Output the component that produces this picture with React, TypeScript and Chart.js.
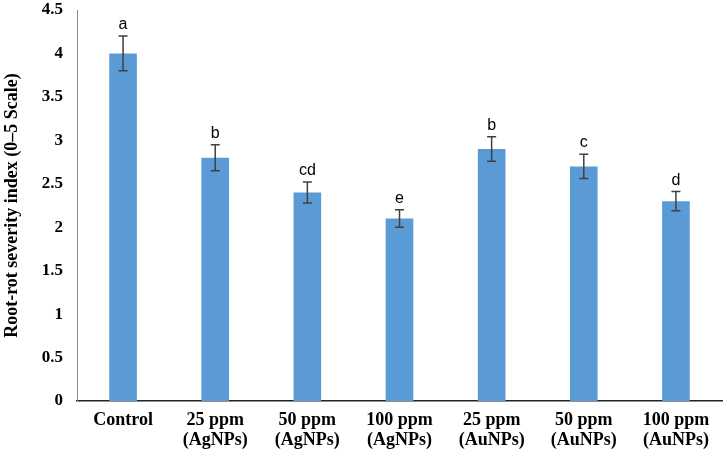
import React, { useEffect, useRef } from "react";
import { Chart, registerables } from "chart.js";

Chart.register(...registerables);

const categories: string[][] = [
  ["Control"],
  ["25 ppm", "(AgNPs)"],
  ["50 ppm", "(AgNPs)"],
  ["100 ppm", "(AgNPs)"],
  ["25 ppm", "(AuNPs)"],
  ["50 ppm", "(AuNPs)"],
  ["100 ppm", "(AuNPs)"],
];
const severity = [4.0, 2.8, 2.4, 2.1, 2.9, 2.7, 2.3];
const errors = [0.2, 0.15, 0.12, 0.1, 0.14, 0.14, 0.11];
const letters = ["a", "b", "cd", "e", "b", "c", "d"];

const errorBarPlugin = {
  id: "errorBars",
  afterDatasetsDraw(chart: any) {
    const { ctx } = chart;
    const meta = chart.getDatasetMeta(0);
    const y = chart.scales.y;
    ctx.save();
    meta.data.forEach((bar: any, i: number) => {
      const x = bar.x;
      const top = y.getPixelForValue(severity[i] + errors[i]);
      const bot = y.getPixelForValue(severity[i] - errors[i]);
      ctx.strokeStyle = "#404040";
      ctx.lineWidth = 1.5;
      ctx.beginPath();
      ctx.moveTo(x, top);
      ctx.lineTo(x, bot);
      ctx.moveTo(x - 4.5, top);
      ctx.lineTo(x + 4.5, top);
      ctx.moveTo(x - 4.5, bot);
      ctx.lineTo(x + 4.5, bot);
      ctx.stroke();
      ctx.fillStyle = "#000000";
      ctx.font = "16px 'Liberation Sans', sans-serif";
      ctx.textAlign = "center";
      ctx.textBaseline = "alphabetic";
      ctx.fillText(letters[i], x, top - 7);
    });
    ctx.restore();
  },
};

export default function App() {
  const ref = useRef<HTMLCanvasElement>(null);
  useEffect(() => {
    if (!ref.current) return;
    const chart = new Chart(ref.current, {
      type: "bar",
      data: {
        labels: categories,
        datasets: [
          {
            data: severity,
            backgroundColor: "#5B9BD5",
            barPercentage: 0.3,
            categoryPercentage: 1,
          },
        ],
      },
      options: {
        animation: false,
        responsive: false,
        maintainAspectRatio: false,
        layout: { padding: { top: 10, right: 4, left: 0, bottom: 0 } },
        plugins: { legend: { display: false }, tooltip: { enabled: false } },
        scales: {
          x: {
            grid: { display: false, drawTicks: false },
            border: { display: true, color: "#222222", width: 1.5 },
            ticks: {
              color: "#000000",
              padding: 9,
              maxRotation: 0,
              autoSkip: false,
              font: { family: "'Liberation Serif', serif", size: 18, weight: "bold", lineHeight: 1.12 },
            },
            afterFit: (s: any) => {
              s.height = 52;
              s.paddingLeft = 0;
              s.paddingRight = 0;
            },
          },
          y: {
            min: 0,
            max: 4.5,
            grid: { display: false, drawTicks: false },
            border: { display: true, color: "#8c8c8c", width: 1 },
            ticks: {
              stepSize: 0.5,
              color: "#000000",
              padding: 14,
              callback: (v: any) => String(v),
              font: { family: "'Liberation Serif', serif", size: 17, weight: "bold" },
            },
            title: {
              display: true,
              text: "Root-rot severity index (0–5 Scale)",
              color: "#000000",
              padding: { top: 2, bottom: 0 },
              font: { family: "'Liberation Serif', serif", size: 18, weight: "bold" },
            },
            afterFit: (s: any) => {
              s.width = 77;
              s.paddingTop = 0;
              s.paddingBottom = 0;
            },
          },
        },
      },
      plugins: [errorBarPlugin],
    });
    return () => chart.destroy();
  }, []);
  return (
    <div style={{ position: "absolute", left: 0, top: 0, width: 726, height: 453, background: "#fff" }}>
      <canvas ref={ref} width={726} height={453} style={{ width: 726, height: 453 }} />
    </div>
  );
}
